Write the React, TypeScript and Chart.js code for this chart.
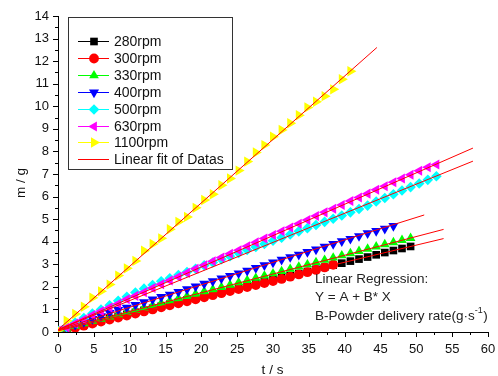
import React, { useEffect, useRef } from 'react';
import { Chart, registerables } from 'chart.js';

Chart.register(...registerables);

const FONT = "'Liberation Sans', Arial, sans-serif";

// Sampling times (s)
const times = [
  0, 1.2, 2.4, 3.6, 4.8, 6.0, 7.2, 8.4, 9.6, 10.8, 12.0, 13.2, 14.4, 15.6, 16.8,
  18.0, 19.2, 20.4, 21.6, 22.8, 24.0, 25.2, 26.4, 27.6, 28.8, 30.0, 31.2, 32.4,
  33.6, 34.8, 36.0, 37.2, 38.4, 39.6, 40.8, 42.0, 43.2, 44.4, 45.6, 46.8, 48.0,
  49.2, 50.4, 51.6, 52.8,
];

const seriesNames = ['280rpm', '300rpm', '330rpm', '400rpm', '500rpm', '630rpm', '1100rpm'];
const seriesColors = ['#000000', '#ff0000', '#00ff00', '#0000ff', '#00ffff', '#ff00ff', '#ffff00'];
const seriesStyles = ['rect', 'circle', 'triangle', 'triangle', 'rectRot', 'triangle', 'triangle'];
const seriesRotations = [0, 0, 0, 180, 0, 270, 90];
const seriesRadii = [5.4, 4.9, 5.6, 5.8, 5.3, 5.8, 6];

// mass (g)
const m280 = [
  0.03, 0.12, 0.22, 0.32, 0.41, 0.5, 0.6, 0.69, 0.78, 0.87, 0.96, 1.05, 1.14, 1.23,
  1.32, 1.42, 1.51, 1.6, 1.69, 1.78, 1.87, 1.96, 2.05, 2.14, 2.23, 2.32, 2.41, 2.5,
  2.59, 2.68, 2.78, 2.87, 2.96, 3.05, 3.14, 3.23, 3.32, 3.42, 3.52, 3.61, 3.7, 3.79,
];
const m300 = [
  0.03, 0.1, 0.19, 0.28, 0.37, 0.46, 0.55, 0.64, 0.73, 0.82, 0.91, 1.0, 1.09, 1.18,
  1.27, 1.36, 1.45, 1.54, 1.63, 1.72, 1.81, 1.9, 1.99, 2.08, 2.17, 2.26, 2.35, 2.45,
  2.55, 2.65, 2.75, 2.86, 2.98,
];
const m330 = [
  0.04, 0.15, 0.27, 0.38, 0.49, 0.58, 0.68, 0.78, 0.88, 0.98, 1.08, 1.18, 1.28, 1.38,
  1.49, 1.59, 1.69, 1.8, 1.89, 1.99, 2.09, 2.19, 2.29, 2.39, 2.49, 2.59, 2.69, 2.79,
  2.89, 2.99, 3.09, 3.19, 3.29, 3.39, 3.48, 3.58, 3.68, 3.78, 3.88, 3.97, 4.07, 4.16,
];
const m400 = [
  0.05, 0.18, 0.32, 0.45, 0.58, 0.7, 0.85, 0.98, 1.08, 1.2, 1.32, 1.44, 1.55, 1.66,
  1.78, 1.9, 2.02, 2.14, 2.25, 2.37, 2.48, 2.6, 2.72, 2.84, 2.96, 3.08, 3.2, 3.32,
  3.43, 3.55, 3.66, 3.78, 3.9, 4.02, 4.13, 4.25, 4.38, 4.48, 4.58, 4.7,
];
const m500 = [
  0.05, 0.22, 0.42, 0.62, 0.82, 1.0, 1.18, 1.38, 1.56, 1.75, 1.92, 2.08, 2.25, 2.38,
  2.52, 2.66, 2.8, 2.95, 3.08, 3.22, 3.36, 3.5, 3.63, 3.77, 3.9, 4.04, 4.18, 4.32,
  4.46, 4.6, 4.74, 4.88, 5.02, 5.16, 5.3, 5.45, 5.6, 5.78, 5.94, 6.1, 6.27, 6.42,
  6.58, 6.74, 6.9,
];
const m630 = [
  0.05, 0.2, 0.38, 0.55, 0.75, 0.92, 1.08, 1.25, 1.45, 1.6, 1.76, 1.95, 2.12, 2.28,
  2.45, 2.62, 2.8, 2.96, 3.13, 3.3, 3.47, 3.62, 3.8, 3.97, 4.14, 4.3, 4.46, 4.63,
  4.8, 4.96, 5.14, 5.3, 5.46, 5.63, 5.8, 5.96, 6.13, 6.3, 6.46, 6.63, 6.8, 6.97,
  7.14, 7.3, 7.42,
];
const m1100 = [
  0.08, 0.5, 0.8, 1.12, 1.52, 1.8, 2.1, 2.5, 2.82, 3.15, 3.6, 3.9, 4.15, 4.55, 4.88,
  5.1, 5.5, 5.85, 6.1, 6.5, 6.8, 7.15, 7.55, 7.95, 8.28, 8.65, 8.95, 9.25, 9.6, 9.95,
  10.2, 10.45, 10.75, 11.2, 11.55,
];
const seriesValues = [m280, m300, m330, m400, m500, m630, m1100];

// Linear fits: m = A + B * t  (280, 330, 400, 500, 630, 1100 rpm)
const fitA = [0.05, 0.08, 0.1, 0.1, 0.1, 0.1];
const fitB = [0.076, 0.083, 0.0995, 0.129, 0.139, 0.281];
const fitEnd = [53.8, 53.8, 51.1, 57.9, 57.9, 44.5];

const xMin = 0, xMax = 60, xStep = 5;
const yMin = 0, yMax = 14, yStep = 1;

function drawMarker(ctx: CanvasRenderingContext2D, style: string, x: number, y: number, r: number, rotDeg: number) {
  let rad = (rotDeg * Math.PI) / 180;
  ctx.beginPath();
  if (style === 'circle') {
    ctx.arc(x, y, r, 0, Math.PI * 2);
  } else if (style === 'rect') {
    const s = r * Math.SQRT1_2;
    ctx.rect(x - s, y - s, 2 * s, 2 * s);
  } else if (style === 'rectRot') {
    ctx.moveTo(x - r, y);
    ctx.lineTo(x, y + r);
    ctx.lineTo(x + r, y);
    ctx.lineTo(x, y - r);
  } else if (style === 'triangle') {
    ctx.moveTo(x + Math.sin(rad) * r, y - Math.cos(rad) * r);
    rad += (2 * Math.PI) / 3;
    ctx.lineTo(x + Math.sin(rad) * r, y - Math.cos(rad) * r);
    rad += (2 * Math.PI) / 3;
    ctx.lineTo(x + Math.sin(rad) * r, y - Math.cos(rad) * r);
  }
  ctx.closePath();
  ctx.fill();
}

const decorPlugin = {
  id: 'decor',
  afterDraw(chart: any) {
    const ctx: CanvasRenderingContext2D = chart.ctx;
    const xs = chart.scales.x;
    const ys = chart.scales.y;
    const { left, bottom } = chart.chartArea;
    ctx.save();
    // tick marks (major + minor), outward
    ctx.strokeStyle = '#000';
    ctx.lineWidth = 1;
    ctx.beginPath();
    for (let v = xMin; v <= xMax + 1e-9; v += xStep / 2) {
      const px = Math.round(xs.getPixelForValue(v)) + 0.5;
      const major = Math.abs(v / xStep - Math.round(v / xStep)) < 1e-6;
      ctx.moveTo(px, bottom);
      ctx.lineTo(px, bottom + (major ? 5 : 3));
    }
    for (let v = yMin; v <= yMax + 1e-9; v += yStep / 2) {
      const py = Math.round(ys.getPixelForValue(v)) + 0.5;
      const major = Math.abs(v / yStep - Math.round(v / yStep)) < 1e-6;
      ctx.moveTo(left, py);
      ctx.lineTo(left - (major ? 5 : 3), py);
    }
    ctx.stroke();

    // axis titles
    ctx.fillStyle = '#111';
    ctx.font = `13.5px ${FONT}`;
    ctx.textAlign = 'center';
    ctx.textBaseline = 'middle';
    ctx.fillText('t / s', 272.5, 370);
    ctx.save();
    ctx.translate(21, 183);
    ctx.rotate(-Math.PI / 2);
    ctx.fillText('m / g', 0, 0);
    ctx.restore();

    // annotation
    ctx.fillStyle = '#222';
    ctx.textAlign = 'left';
    ctx.font = `13.5px ${FONT}`;
    ctx.fillText('Linear Regression:', 315, 279);
    ctx.fillText('Y = A + B* X', 315, 297);
    const t1 = 'B-Powder delivery rate(g\u00b7s';
    ctx.fillText(t1, 315, 316);
    const w = ctx.measureText(t1).width;
    ctx.font = `9px ${FONT}`;
    ctx.fillText('-1', 315 + w, 311);
    const w2 = ctx.measureText('-1').width;
    ctx.font = `13.5px ${FONT}`;
    ctx.fillText(')', 315 + w + w2 + 0.5, 316);

    // legend
    ctx.fillStyle = '#fff';
    ctx.fillRect(68, 17, 164, 152);
    ctx.strokeStyle = '#333';
    ctx.lineWidth = 1;
    ctx.strokeRect(68.5, 17.5, 164, 152);
    ctx.font = `14px ${FONT}`;
    ctx.textBaseline = 'middle';
    const rowH = 16.9;
    for (let i = 0; i <= seriesNames.length; i++) {
      const y = Math.round(41 + i * rowH) + 0.5;
      const isFit = i === seriesNames.length;
      const color = isFit ? '#ff0000' : seriesColors[i];
      ctx.strokeStyle = color;
      ctx.beginPath();
      ctx.moveTo(78, y);
      ctx.lineTo(109, y);
      ctx.stroke();
      if (!isFit) {
        ctx.fillStyle = color;
        drawMarker(ctx, seriesStyles[i], 94, y, seriesRadii[i], seriesRotations[i]);
      }
      ctx.fillStyle = '#111';
      ctx.fillText(isFit ? 'Linear fit of Datas' : seriesNames[i], 114, y + 0.5);
    }
    ctx.restore();
  },
};

export default function App() {
  const canvasRef = useRef<HTMLCanvasElement>(null);

  useEffect(() => {
    document.body.style.margin = '0';
    const canvas = canvasRef.current;
    if (!canvas) return;

    const markerSets = seriesNames.map((name, i) => ({
      label: name,
      data: seriesValues[i].map((v, k) => ({ x: times[k], y: v })),
      showLine: false,
      backgroundColor: seriesColors[i],
      borderColor: seriesColors[i],
      borderWidth: 0,
      pointStyle: seriesStyles[i],
      rotation: seriesRotations[i],
      pointRadius: seriesRadii[i],
      pointBorderWidth: 0,
      order: 10 - i,
    }));

    const fitSets = fitA.map((a, i) => ({
      label: 'Linear fit of Datas',
      data: [
        { x: 0, y: a },
        { x: fitEnd[i], y: a + fitB[i] * fitEnd[i] },
      ],
      showLine: true,
      borderColor: '#ff0000',
      borderWidth: 1,
      pointRadius: 0,
      fill: false,
      order: 0,
    }));

    const chart = new Chart(canvas, {
      type: 'scatter',
      data: { datasets: [...markerSets, ...fitSets] as any },
      options: {
        animation: false,
        responsive: false,
        devicePixelRatio: 1,
        layout: { padding: { top: 16, right: 10, left: 0, bottom: 0 } },
        plugins: { legend: { display: false }, tooltip: { enabled: false } },
        scales: {
          x: {
            type: 'linear',
            min: xMin,
            max: xMax,
            ticks: { stepSize: xStep, font: { family: FONT, size: 13 }, color: '#111', padding: 10, maxRotation: 0, autoSkip: false },
            grid: { display: false, drawTicks: false },
            border: { display: true, color: '#000', width: 1 },
            afterFit: (s: any) => { s.height = 44; s.paddingLeft = 0; s.paddingRight = 0; },
          },
          y: {
            type: 'linear',
            min: yMin,
            max: yMax,
            ticks: { stepSize: yStep, font: { family: FONT, size: 13 }, color: '#111', padding: 9, autoSkip: false },
            grid: { display: false, drawTicks: false },
            border: { display: true, color: '#000', width: 1 },
            afterFit: (s: any) => { s.width = 58; s.paddingTop = 0; s.paddingBottom = 0; },
          },
        },
      },
      plugins: [decorPlugin],
    });
    return () => chart.destroy();
  }, []);

  return (
    <div style={{ width: 498, height: 376, overflow: 'hidden', background: '#fff' }}>
      <canvas ref={canvasRef} width={498} height={376} style={{ display: 'block' }} />
    </div>
  );
}
